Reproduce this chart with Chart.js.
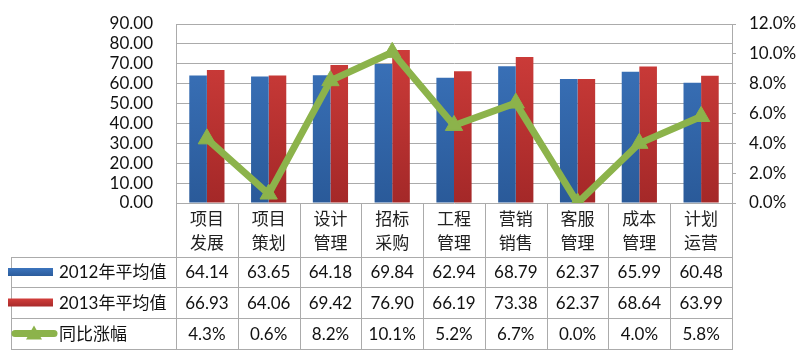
<!DOCTYPE html>
<html>
<head>
<meta charset="utf-8">
<script src="https://cdn.jsdelivr.net/npm/chart.js@4.4.1/dist/chart.umd.min.js"></script>
<style>
html,body{margin:0;padding:0;background:#fff;}
#wrap{width:805px;height:361px;position:relative;}
</style>
</head>
<body>
<div id="wrap"><canvas id="c" width="805" height="361"></canvas></div>
<script>
const categories = [['项目','发展'],['项目','策划'],['设计','管理'],['招标','采购'],['工程','管理'],['营销','销售'],['客服','管理'],['成本','管理'],['计划','运营']];
const seriesNames = ['2012年平均值','2013年平均值','同比涨幅'];
const avg2012 = [64.14,63.65,64.18,69.84,62.94,68.79,62.37,65.99,60.48];
const avg2013 = [66.93,64.06,69.42,76.90,66.19,73.38,62.37,68.64,63.99];
const growth = [4.3,0.6,8.2,10.1,5.2,6.7,0.0,4.0,5.8];
const leftTicks = {min:0,max:90,step:10};
const rightTicks = {min:0,max:12,step:2};

const FONT = "Lato, 'Noto Sans CJK SC', sans-serif";
const GRID = '#ABABAB';
const GREEN = '#8CB34B';

function grad(top, bottom){
  return function(ctx){
    const ch = ctx.chart; const a = ch.chartArea;
    if(!a) return top;
    const g = ch.ctx.createLinearGradient(0,a.top,0,a.bottom);
    g.addColorStop(0,top); g.addColorStop(1,bottom);
    return g;
  };
}

const tablePlugin = {
  id:'dataTable',
  afterDraw(chart){
    const ctx = chart.ctx;
    const x = chart.scales.x;
    const a = chart.chartArea;
    const n = categories.length;
    const cw = (x.right - x.left)/n;
    const rows = [a.bottom+54, a.bottom+84, a.bottom+115, a.bottom+146];
    const tableLeft = 11;
    ctx.save();
    ctx.strokeStyle = GRID; ctx.lineWidth = 1;
    ctx.beginPath();
    for(let i=0;i<=n;i++){
      const bx = Math.round(x.left + i*cw)+0.5;
      ctx.moveTo(bx, a.bottom); ctx.lineTo(bx, rows[3]);
    }
    ctx.moveTo(tableLeft+0.5, rows[0]); ctx.lineTo(tableLeft+0.5, rows[3]);
    rows.forEach(r=>{ ctx.moveTo(tableLeft, r+0.5); ctx.lineTo(x.right+1, r+0.5); });
    ctx.stroke();

    const data = [avg2012.map(v=>v.toFixed(2)), avg2013.map(v=>v.toFixed(2)), growth.map(v=>v.toFixed(1)+'%')];
    ctx.fillStyle = '#111';
    ctx.textAlign = 'center'; ctx.textBaseline = 'middle';
    ctx.font = "17px " + FONT;
    for(let r=0;r<3;r++){
      const cy = (rows[r]+rows[r+1])/2 + 1;
      for(let i=0;i<n;i++){
        ctx.fillText(data[r][i], x.getPixelForValue(i), cy);
      }
    }
    // legend keys
    ctx.textAlign = 'left';
    ctx.font = "17px " + FONT;
    const keyCols = [['#3C74BD','#2B5C9C'],['#D23E3B','#A82A2A']];
    for(let r=0;r<3;r++){
      const cy = (rows[r]+rows[r+1])/2;
      if(r<2){
        const g = ctx.createLinearGradient(0,cy-4,0,cy+4);
        g.addColorStop(0,keyCols[r][0]); g.addColorStop(1,keyCols[r][1]);
        ctx.fillStyle = g;
        ctx.fillRect(8, cy-4, 45, 8);
      } else {
        ctx.strokeStyle = GREEN; ctx.lineWidth = 7; ctx.lineCap='round';
        ctx.beginPath(); ctx.moveTo(15, cy); ctx.lineTo(54, cy); ctx.stroke();
        ctx.fillStyle = GREEN;
        ctx.beginPath(); ctx.moveTo(34, cy-8); ctx.lineTo(42, cy+6); ctx.lineTo(26, cy+6); ctx.closePath(); ctx.fill();
      }
      ctx.fillStyle = '#111';
      ctx.fillText(seriesNames[r], 59, cy+1);
    }
    ctx.restore();
  }
};

new Chart(document.getElementById('c'), {
  data:{
    labels: categories,
    datasets:[
      {type:'line', label:seriesNames[2], data:growth, yAxisID:'y1', order:0,
       borderColor:GREEN, borderWidth:7, pointStyle:'triangle', pointRadius:10,
       pointBackgroundColor:GREEN, pointBorderColor:GREEN, pointBorderWidth:1, tension:0, borderJoinStyle:'miter'},
      {type:'bar', label:seriesNames[0], data:avg2012, yAxisID:'y', order:1,
       backgroundColor:grad('#3D76BF','#2A5A99'), categoryPercentage:0.57, barPercentage:1.0},
      {type:'bar', label:seriesNames[1], data:avg2013, yAxisID:'y', order:1,
       backgroundColor:grad('#D33F3C','#A42828'), categoryPercentage:0.57, barPercentage:1.0}
    ]
  },
  options:{
    responsive:false, animation:false,
    layout:{padding:{top:24,left:0,right:0,bottom:0}},
    plugins:{legend:{display:false}, tooltip:{enabled:false}},
    scales:{
      x:{
        grid:{display:false, drawTicks:false},
        border:{display:false},
        ticks:{font:{family:FONT,size:17,lineHeight:1.42}, color:'#222', padding:4, maxRotation:0, autoSkip:false},
        afterFit(s){ s.height = 158; s.paddingLeft = 0; s.paddingRight = 0; }
      },
      y:{
        position:'left', min:leftTicks.min, max:leftTicks.max,
        grid:{color:GRID, drawTicks:false},
        border:{display:true, color:GRID},
        ticks:{stepSize:leftTicks.step, autoSkip:false, padding:23, color:'#111', font:{family:FONT,size:17},
               callback:v=>v.toFixed(2)},
        afterFit(s){ s.width = 176; s.paddingTop = 0; s.paddingBottom = 0; }
      },
      y1:{
        position:'right', min:rightTicks.min, max:rightTicks.max,
        grid:{drawOnChartArea:false, drawTicks:true, tickLength:4, color:GRID},
        border:{display:true, color:GRID},
        ticks:{stepSize:rightTicks.step, autoSkip:false, padding:13, color:'#111', font:{family:FONT,size:17},
               callback:v=>v.toFixed(1)+'%'},
        afterFit(s){ s.width = 73; s.paddingTop = 0; s.paddingBottom = 0; }
      }
    }
  },
  plugins:[tablePlugin]
});
</script>
</body>
</html>
